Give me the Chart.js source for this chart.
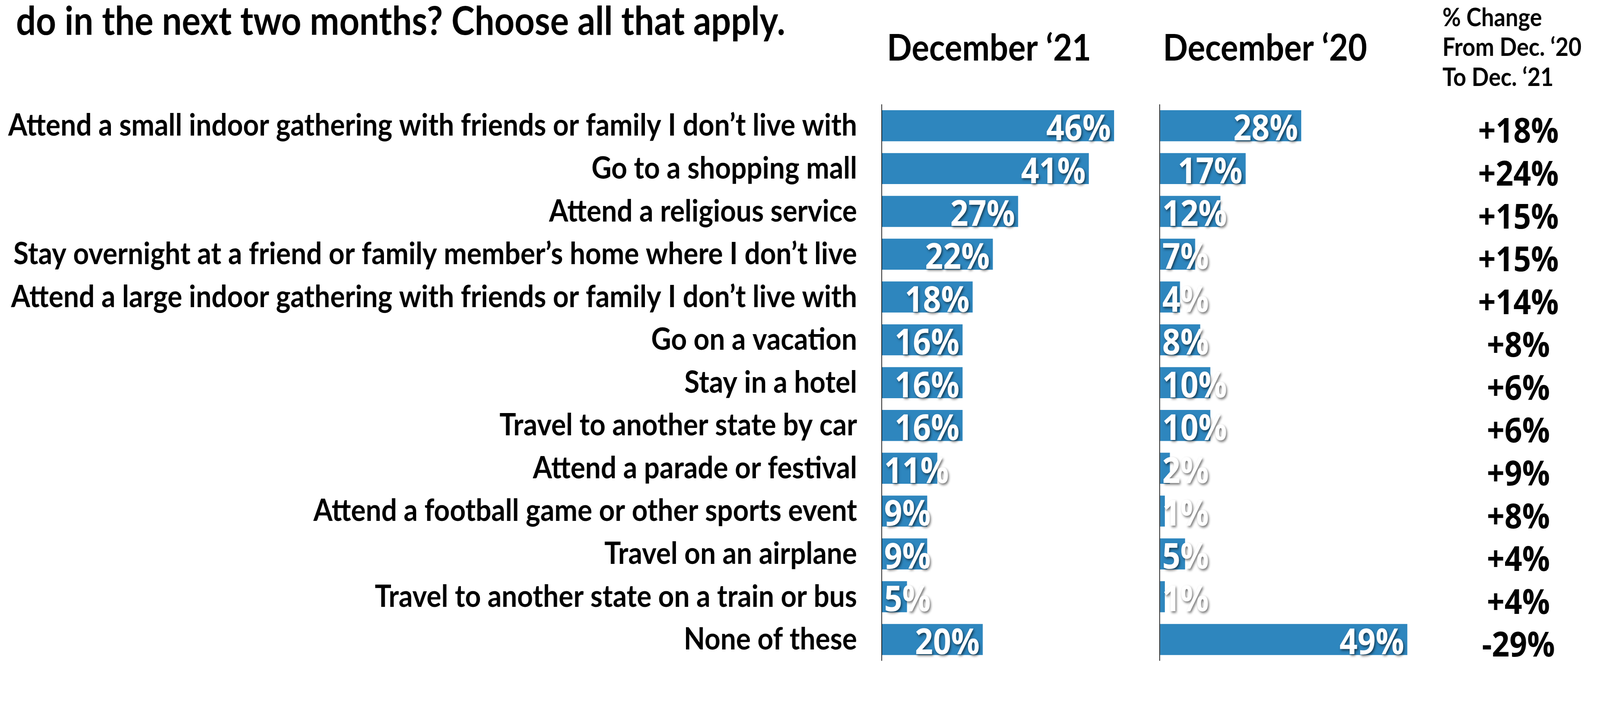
<!DOCTYPE html>
<html>
<head>
<meta charset="utf-8">
<script src="https://cdn.jsdelivr.net/npm/chart.js@4.4.1/dist/chart.umd.min.js"></script>
<style>
html,body{margin:0;padding:0;background:#fff;overflow:hidden;width:100%;height:100%}
#wrap{position:fixed;left:0;top:0;width:4600px;height:1810px;transform-origin:0 0}
canvas{display:block}
</style>
</head>
<body>
<div id="wrap"><canvas id="c" width="4600" height="1810" style="width:4600px;height:1810px"></canvas></div>
<script>
// ---- data ----
const CATEGORIES = [
  'Attend a small indoor gathering with friends or family I don’t live with',
  'Go to a shopping mall',
  'Attend a religious service',
  'Stay overnight at a friend or family member’s home where I don’t live',
  'Attend a large indoor gathering with friends or family I don’t live with',
  'Go on a vacation',
  'Stay in a hotel',
  'Travel to another state by car',
  'Attend a parade or festival',
  'Attend a football game or other sports event',
  'Travel on an airplane',
  'Travel to another state on a train or bus',
  'None of these'
];
const DEC_21 = [46, 41, 27, 22, 18, 16, 16, 16, 11, 9, 9, 5, 20];
const DEC_20 = [28, 17, 12, 7, 4, 8, 10, 10, 2, 1, 5, 1, 49];
const CHANGE = [18, 24, 15, 15, 14, 8, 6, 6, 9, 8, 4, 4, -29];
const TITLE = 'do in the next two months? Choose all that apply.';
const HEADER_21 = 'December ‘21';
const HEADER_20 = 'December ‘20';
const CHANGE_HEADER = ['% Change', 'From Dec. ‘20', 'To Dec. ‘21'];

// ---- fit the 4600x1799 design to whatever viewport we get ----
const DESIGN_W = 4600, DESIGN_H = 1799;
const vw = document.documentElement.clientWidth || window.innerWidth;
const vh = document.documentElement.clientHeight || window.innerHeight;
document.getElementById('wrap').style.transform = `scale(${vw / DESIGN_W}, ${vh / DESIGN_H})`;

// ---- styling helpers ----
const FONT = 'Lato, "Open Sans", sans-serif';
const NUM_FONT = '"Open Sans", Lato, sans-serif';
const BLUE = '#2e86be';
const NUM_CAP = 0.714;
const mctx = document.createElement('canvas').getContext('2d');
function fit(text, weight, target, family) {
  mctx.font = `${weight} 100px ${family || FONT}`;
  return 100 * target / mctx.measureText(text).width;
}
const LABEL_SIZE = fit(CATEGORIES[0], 700, 2441);
const TITLE_SIZE = fit(TITLE, 700, 2212);
const HEAD_SIZE = fit(HEADER_21, 700, 587);
const VAL_SIZE = fit('46%', 700, 186, NUM_FONT);
const CHG_SIZE = fit('+18%', 700, 232, NUM_FONT);
const CHGH_SIZE = fit(CHANGE_HEADER[1], 700, 400);
const fmtChange = v => (v > 0 ? '+' : v < 0 ? '-' : '') + Math.abs(v) + '%';

const valueLabels = {
  id: 'valueLabels',
  afterDatasetsDraw(chart) {
    const ctx = chart.ctx;
    ctx.save();
    ctx.font = `700 ${VAL_SIZE}px ${NUM_FONT}`;
    ctx.fillStyle = '#fff';
    ctx.textAlign = 'right';
    ctx.textBaseline = 'alphabetic';
    ctx.shadowColor = 'rgba(0,0,0,0.55)';
    ctx.shadowBlur = 6;
    ctx.shadowOffsetX = 3;
    ctx.shadowOffsetY = 4;
    chart.data.datasets.forEach((ds, di) => {
      const meta = chart.getDatasetMeta(di);
      meta.data.forEach((bar, i) => {
        const txt = ds.data[i] + '%';
        const w = ctx.measureText(txt).width;
        const right = Math.max(bar.x - 9, bar.base + 6 + w);
        ctx.fillText(txt, right, bar.y + 5 + NUM_CAP * VAL_SIZE / 2);
      });
    });
    ctx.restore();
  }
};

const annotations = {
  id: 'annotations',
  afterDraw(chart) {
    const ctx = chart.ctx;
    const x1 = chart.scales.x1, x2 = chart.scales.x2, y = chart.scales.y;
    ctx.save();
    ctx.fillStyle = '#000';
    ctx.textBaseline = 'alphabetic';
    ctx.textAlign = 'left';
    ctx.font = `700 ${TITLE_SIZE}px ${FONT}`;
    ctx.fillText(TITLE, 46, 89);
    ctx.font = `700 ${HEAD_SIZE}px ${FONT}`;
    ctx.fillText(HEADER_21, x1.getPixelForValue(0) + 15, 155);
    ctx.fillText(HEADER_20, x2.getPixelForValue(0) + 9, 155);
    ctx.font = `700 ${CHGH_SIZE}px ${FONT}`;
    [67, 143, 220].forEach((b, i) => ctx.fillText(CHANGE_HEADER[i], 4147, b));
    ctx.textAlign = 'center';
    ctx.font = `700 ${CHG_SIZE}px ${NUM_FONT}`;
    const cx = x2.getPixelForValue(71);
    CHANGE.forEach((v, i) => {
      ctx.fillText(fmtChange(v), cx, y.getPixelForValue(i) + 12 + NUM_CAP * CHG_SIZE / 2);
    });
    ctx.restore();
  }
};

const zeroOnly = s => { s.ticks = [{ value: 0 }]; };

new Chart(document.getElementById('c'), {
  type: 'bar',
  data: {
    labels: CATEGORIES,
    datasets: [
      { label: 'December ‘21', data: DEC_21, xAxisID: 'x1', backgroundColor: BLUE, grouped: false,
        categoryPercentage: 1, barPercentage: 0.725, borderWidth: 0 },
      { label: 'December ‘20', data: DEC_20, xAxisID: 'x2', backgroundColor: BLUE, grouped: false,
        categoryPercentage: 1, barPercentage: 0.725, borderWidth: 0 }
    ]
  },
  options: {
    indexAxis: 'y',
    responsive: false,
    devicePixelRatio: 1,
    animation: false,
    layout: { padding: { top: 267, left: 0, right: 0, bottom: 0 } },
    plugins: { legend: { display: false }, tooltip: { enabled: false }, title: { display: false } },
    scales: {
      y: {
        type: 'category',
        position: 'left',
        grid: { display: false, drawTicks: false },
        border: { display: false },
        ticks: { autoSkip: false, padding: 71, color: '#000',
                 font: { family: FONT, weight: '700', size: LABEL_SIZE } },
        afterFit: s => { s.width = 2535; }
      },
      x1: {
        axis: 'x', type: 'linear', position: 'bottom', min: 0, max: 142.2,
        afterBuildTicks: zeroOnly,
        grid: { display: true, drawTicks: false, color: '#000', lineWidth: 2 },
        border: { display: false },
        ticks: { display: false }
      },
      x2: {
        axis: 'x', type: 'linear', position: 'bottom', min: -55.05, max: 87.15,
        afterBuildTicks: zeroOnly,
        grid: { display: true, drawTicks: false, color: '#000', lineWidth: 2 },
        border: { display: false },
        ticks: { display: false }
      }
    }
  },
  plugins: [valueLabels, annotations]
});
</script>
</body>
</html>
